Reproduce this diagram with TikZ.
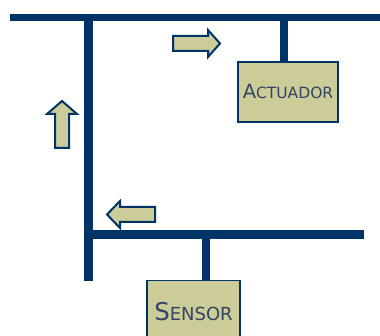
\documentclass[tikz,border=0pt]{standalone}
\usepackage{fontspec}
\setmainfont{DejaVu Sans}
\definecolor{bus}{HTML}{003366}
\definecolor{khaki}{HTML}{CCCC99}
\definecolor{txt}{HTML}{334466}
\tikzset{
  busline/.style={draw=bus, line width=7.5pt},
  device/.style={draw=bus, fill=khaki, line width=1.4pt, text=txt, inner sep=0pt},
  flowarrow/.style={draw=bus, fill=khaki, line width=2pt, line join=miter}
}
\begin{document}
\begin{tikzpicture}[x=1pt,y=-1pt]
\useasboundingbox (0,0) rectangle (380,336);
% devices
\node[device, minimum width=100pt, minimum height=60pt] (act) at (288,92)
  {{\fontsize{19.5}{19.5}\selectfont A}{\fontsize{15.5}{15.5}\selectfont CTUADOR}};
\node[device, minimum width=93pt, minimum height=70pt, anchor=north] (sen) at (193.5,280) {};
\node[text=txt, inner sep=0pt] (sentxt) at (193.5,312)
  {{\fontsize{24.5}{24.5}\selectfont S}{\fontsize{18}{18}\selectfont ENSOR}};
% bus coordinates
\coordinate (tl) at (10,17.5);
\coordinate (tr) at (381,17.5);
\coordinate (vt) at (88.5,14);
\coordinate (vb) at (88.5,281);
\coordinate (bl) at (84,234.5);
\coordinate (br) at (364,234.5);
\coordinate (as) at (284,21);
\coordinate (ss) at (206,238);
% bus lines
\draw[busline] (tl) -- (tr);
\draw[busline, line width=8.5pt] (vt) -- (vb);
\draw[busline, line width=8.5pt] (bl) -- (br);
\draw[busline] (as) -- (as |- act.north);
\draw[busline] (ss) -- (ss |- sen.north);
% flow arrows
\draw[flowarrow] (173,36) -- (208,36) -- (208,30) -- (220,43.5) -- (208,57) -- (208,51) -- (173,51) -- cycle;
\draw[flowarrow] (55,148) -- (55,114) -- (47,114) -- (62,101) -- (77,114) -- (69,114) -- (69,148) -- cycle;
\draw[flowarrow] (155,207) -- (120,207) -- (120,201) -- (107,214.5) -- (120,228) -- (120,222) -- (155,222) -- cycle;
\end{tikzpicture}
\end{document}
